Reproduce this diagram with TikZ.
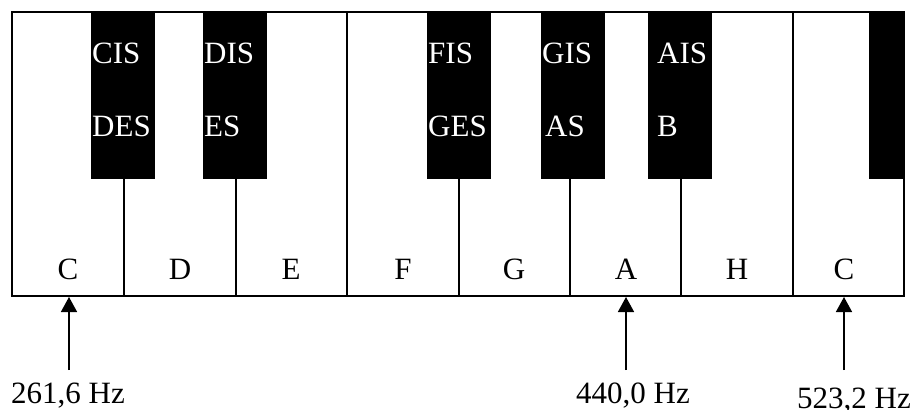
\documentclass[tikz,border=0pt]{standalone}
\usepackage{fontspec}
\setmainfont{Liberation Serif}
\usetikzlibrary{arrows.meta}
\begin{document}
\begin{tikzpicture}[x=1pt,y=-1pt,
  font=\fontsize{31}{36}\selectfont,
  blackkey/.style={fill=black,draw=none},
  divider/.style={line width=2pt},
  blacklabel/.style={anchor=base west,text=white,inner sep=0pt},
  whitelabel/.style={anchor=base,inner sep=0pt},
  freqlabel/.style={anchor=base,inner sep=0pt},
  freqarrow/.style={line width=1.5pt,-{Triangle[width=16pt,length=15pt]}}]
\useasboundingbox (0,0) rectangle (914,410);
% white keys
\fill[white] (12,12) rectangle (904,296);
\foreach \x in {124,236,347,459,570,681,793}
  \draw[divider] (\x,12) -- (\x,296);
% black keys
\foreach \a/\b in {91/155,203/267,427/491,541/605,648/712,869/904}
  \fill[blackkey] (\a,12) rectangle (\b,179);
% outline
\draw[line width=2pt] (12,12) rectangle (904,296);
% black key labels
\node[blacklabel] (cis) at (92,63) {CIS};
\node[blacklabel] (des) at (92,136) {DES};
\node[blacklabel] (dis) at (204,63) {DIS};
\node[blacklabel] (es)  at (204,136) {ES};
\node[blacklabel] (fis) at (428,63) {FIS};
\node[blacklabel] (ges) at (428,136) {GES};
\node[blacklabel] (gis) at (542,63) {GIS};
\node[blacklabel] (as)  at (545,136) {AS};
\node[blacklabel] (ais) at (657,63) {AIS};
\node[blacklabel] (bb)  at (657,136) {B};
% white key labels
\node[whitelabel] (c1) at (68,279) {C};
\node[whitelabel] (d)  at (180,279) {D};
\node[whitelabel] (e)  at (291,279) {E};
\node[whitelabel] (f)  at (403,279) {F};
\node[whitelabel] (g)  at (514,279) {G};
\node[whitelabel] (a)  at (626,279) {A};
\node[whitelabel] (h)  at (737,279) {H};
\node[whitelabel] (c2) at (844,279) {C};
% frequency labels
\node[freqlabel] (f1) at (68,403) {261,6 Hz};
\node[freqlabel] (f2) at (633,403) {440,0 Hz};
\node[freqlabel] (f3) at (854,408) {523,2 Hz};
% arrows
\coordinate (s1) at (69,370); \coordinate (t1) at (69,297);
\coordinate (s2) at (626,370); \coordinate (t2) at (626,297);
\coordinate (s3) at (844,370); \coordinate (t3) at (844,297);
\draw[freqarrow] (s1) -- (t1);
\draw[freqarrow] (s2) -- (t2);
\draw[freqarrow] (s3) -- (t3);
\end{tikzpicture}
\end{document}
